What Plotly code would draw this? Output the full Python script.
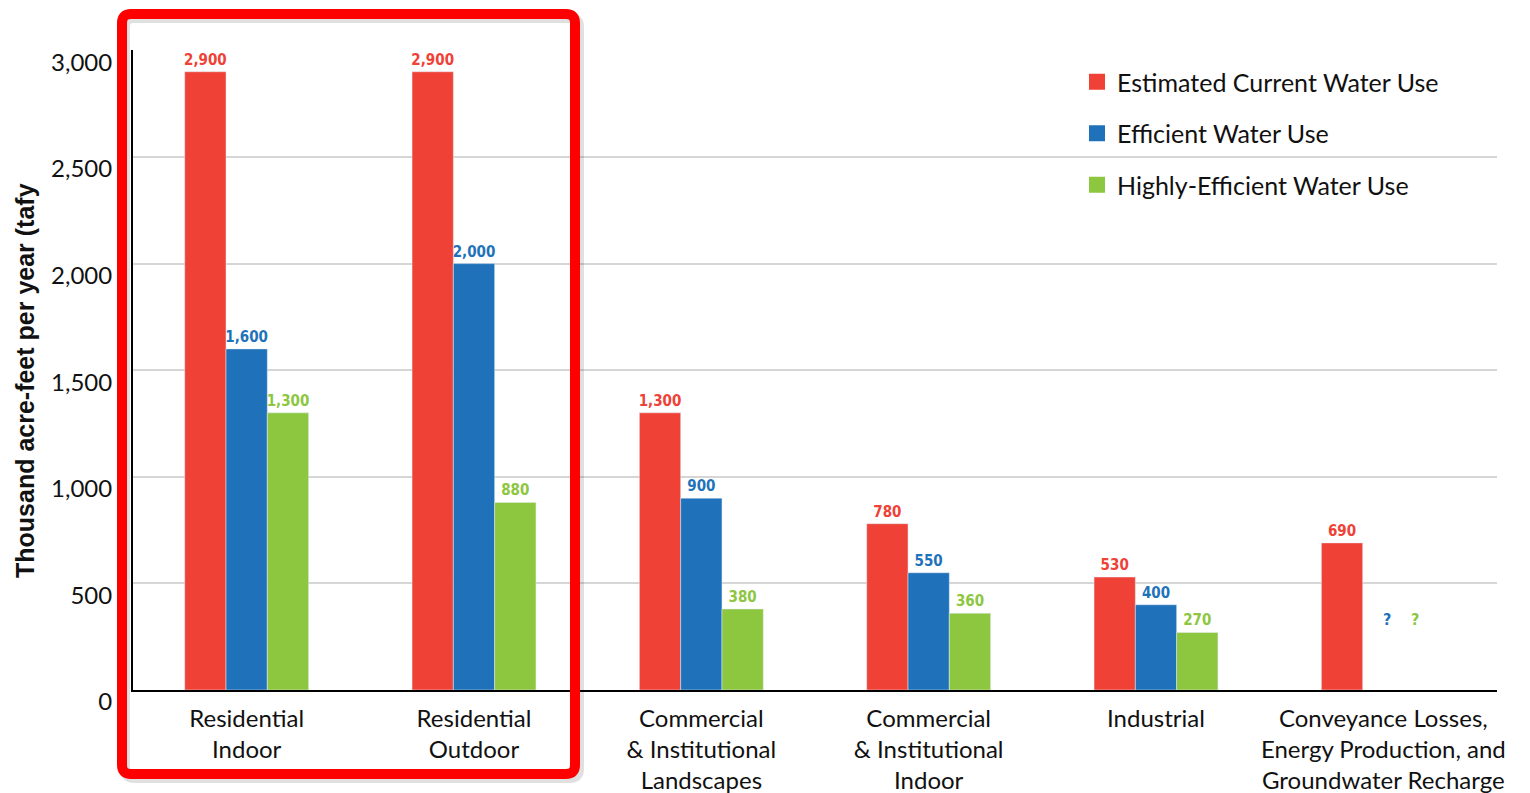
import plotly.graph_objects as go

categories = [
    "Residential<br>Indoor",
    "Residential<br>Outdoor",
    "Commercial<br>& Institutional<br>Landscapes",
    "Commercial<br>& Institutional<br>Indoor",
    "Industrial",
    "Conveyance Losses,<br>Energy Production, and<br>Groundwater Recharge",
]
current_use = [2900, 2900, 1300, 780, 530, 690]
efficient_use = [1600, 2000, 900, 550, 400, None]
highly_efficient_use = [1300, 880, 380, 360, 270, None]

series_names = ["Estimated Current Water Use", "Efficient Water Use", "Highly-Efficient Water Use"]
series_colors = ["#EF4136", "#1F72BA", "#8DC63F"]
series_values = [current_use, efficient_use, highly_efficient_use]

y_ticks = [0, 500, 1000, 1500, 2000, 2500, 3000]
y_tick_text = ["0", "500", "1,000", "1,500", "2,000", "2,500", "3,000"]
unknown_label_y = 333

# page is rendered with an 8px body margin; the figure is sized to fill the rest of the window
OFF = 8
W, H = 1530 - OFF, 793 - OFF
PLOT_L, PLOT_R, PLOT_T, PLOT_B = 133, 1497, 50, 690   # page pixels
L, T = PLOT_L - OFF, PLOT_T - OFF
R, B = 1530 - PLOT_R, 793 - PLOT_B
pw, ph = PLOT_R - PLOT_L, PLOT_B - PLOT_T

LABEL_FONT = "Liberation Sans Narrow, DejaVu Sans Condensed, Roboto, sans-serif"


def px(xp):
    return (xp - PLOT_L) / pw


def py(yp):
    return (PLOT_B - yp) / ph


fig = go.Figure()
for name, color, vals in zip(series_names, series_colors, series_values):
    fig.add_trace(go.Bar(
        x=categories, y=vals, name=name, marker_color=color,
        texttemplate="<b>%{y:,}</b>", textposition="outside", constraintext="none",
        textfont=dict(family=LABEL_FONT, size=15, color=color),
        cliponaxis=False, showlegend=False,
    ))
    fig.add_trace(go.Scatter(
        x=[None], y=[None], mode="markers", name=name,
        marker=dict(symbol="square", size=20, color=color),
        legendgroup=name,
    ))

# "?" marks for unknown values
for color, shift in [(series_colors[1], 4), (series_colors[2], 32)]:
    fig.add_annotation(x=categories[-1], y=unknown_label_y, text="<b>?</b>", showarrow=False,
                       xshift=shift, font=dict(family=LABEL_FONT, size=16, color=color))

# y-axis title
fig.add_annotation(xref="paper", yref="paper", x=px(25), y=py(381), xanchor="center", yanchor="middle",
                   text="<b>Thousand acre-feet per year (tafy</b>", textangle=-90,
                   showarrow=False, font=dict(family="Liberation Sans, Arial, sans-serif", size=25, color="#111"))


def rounded_path(x0, y0, x1, y1, r):
    rx, ry = r / pw, r / ph
    X0, X1, Y0, Y1 = px(x0), px(x1), py(y0), py(y1)
    return (f"M {X0+rx},{Y0} L {X1-rx},{Y0} Q {X1},{Y0} {X1},{Y0-ry} "
            f"L {X1},{Y1+ry} Q {X1},{Y1} {X1-rx},{Y1} L {X0+rx},{Y1} Q {X0},{Y1} {X0},{Y1+ry} "
            f"L {X0},{Y0-ry} Q {X0},{Y0} {X0+rx},{Y0} Z")


# red highlight frame (with soft shadow)
fig.add_shape(type="path", xref="paper", yref="paper", path=rounded_path(125, 18, 579, 778, 9),
              line=dict(color="rgba(0,0,0,0.12)", width=10), layer="above")
fig.add_shape(type="path", xref="paper", yref="paper", path=rounded_path(122, 14, 575, 774, 9),
              line=dict(color="#FF0000", width=10), layer="above")

fig.update_layout(
    width=W, height=H,
    margin=dict(l=L, r=R, t=T, b=B, autoexpand=False),
    paper_bgcolor="white", plot_bgcolor="white",
    barmode="group", bargap=0.455, bargroupgap=0,
    font=dict(family="Lato, Noto Sans, sans-serif", size=24, color="#111"),
    legend=dict(x=px(1077), y=py(59), xanchor="left", yanchor="top",
                font=dict(size=25, color="#111"), tracegroupgap=16,
                bgcolor="rgba(0,0,0,0)", itemsizing="trace"),
    xaxis=dict(showline=True, linecolor="black", linewidth=2, ticks="", automargin=False,
               tickfont=dict(size=24), ticklabelstandoff=6),
    yaxis=dict(range=[0, 3002], tickvals=y_ticks, ticktext=y_tick_text, automargin=False,
               showgrid=True, gridcolor="#D6D6D6", gridwidth=2,
               showline=True, linecolor="black", linewidth=2, zeroline=False,
               tickfont=dict(size=24), ticklabelstandoff=14, ticklabelshift=12),
)

fig.write_html("out.html")
